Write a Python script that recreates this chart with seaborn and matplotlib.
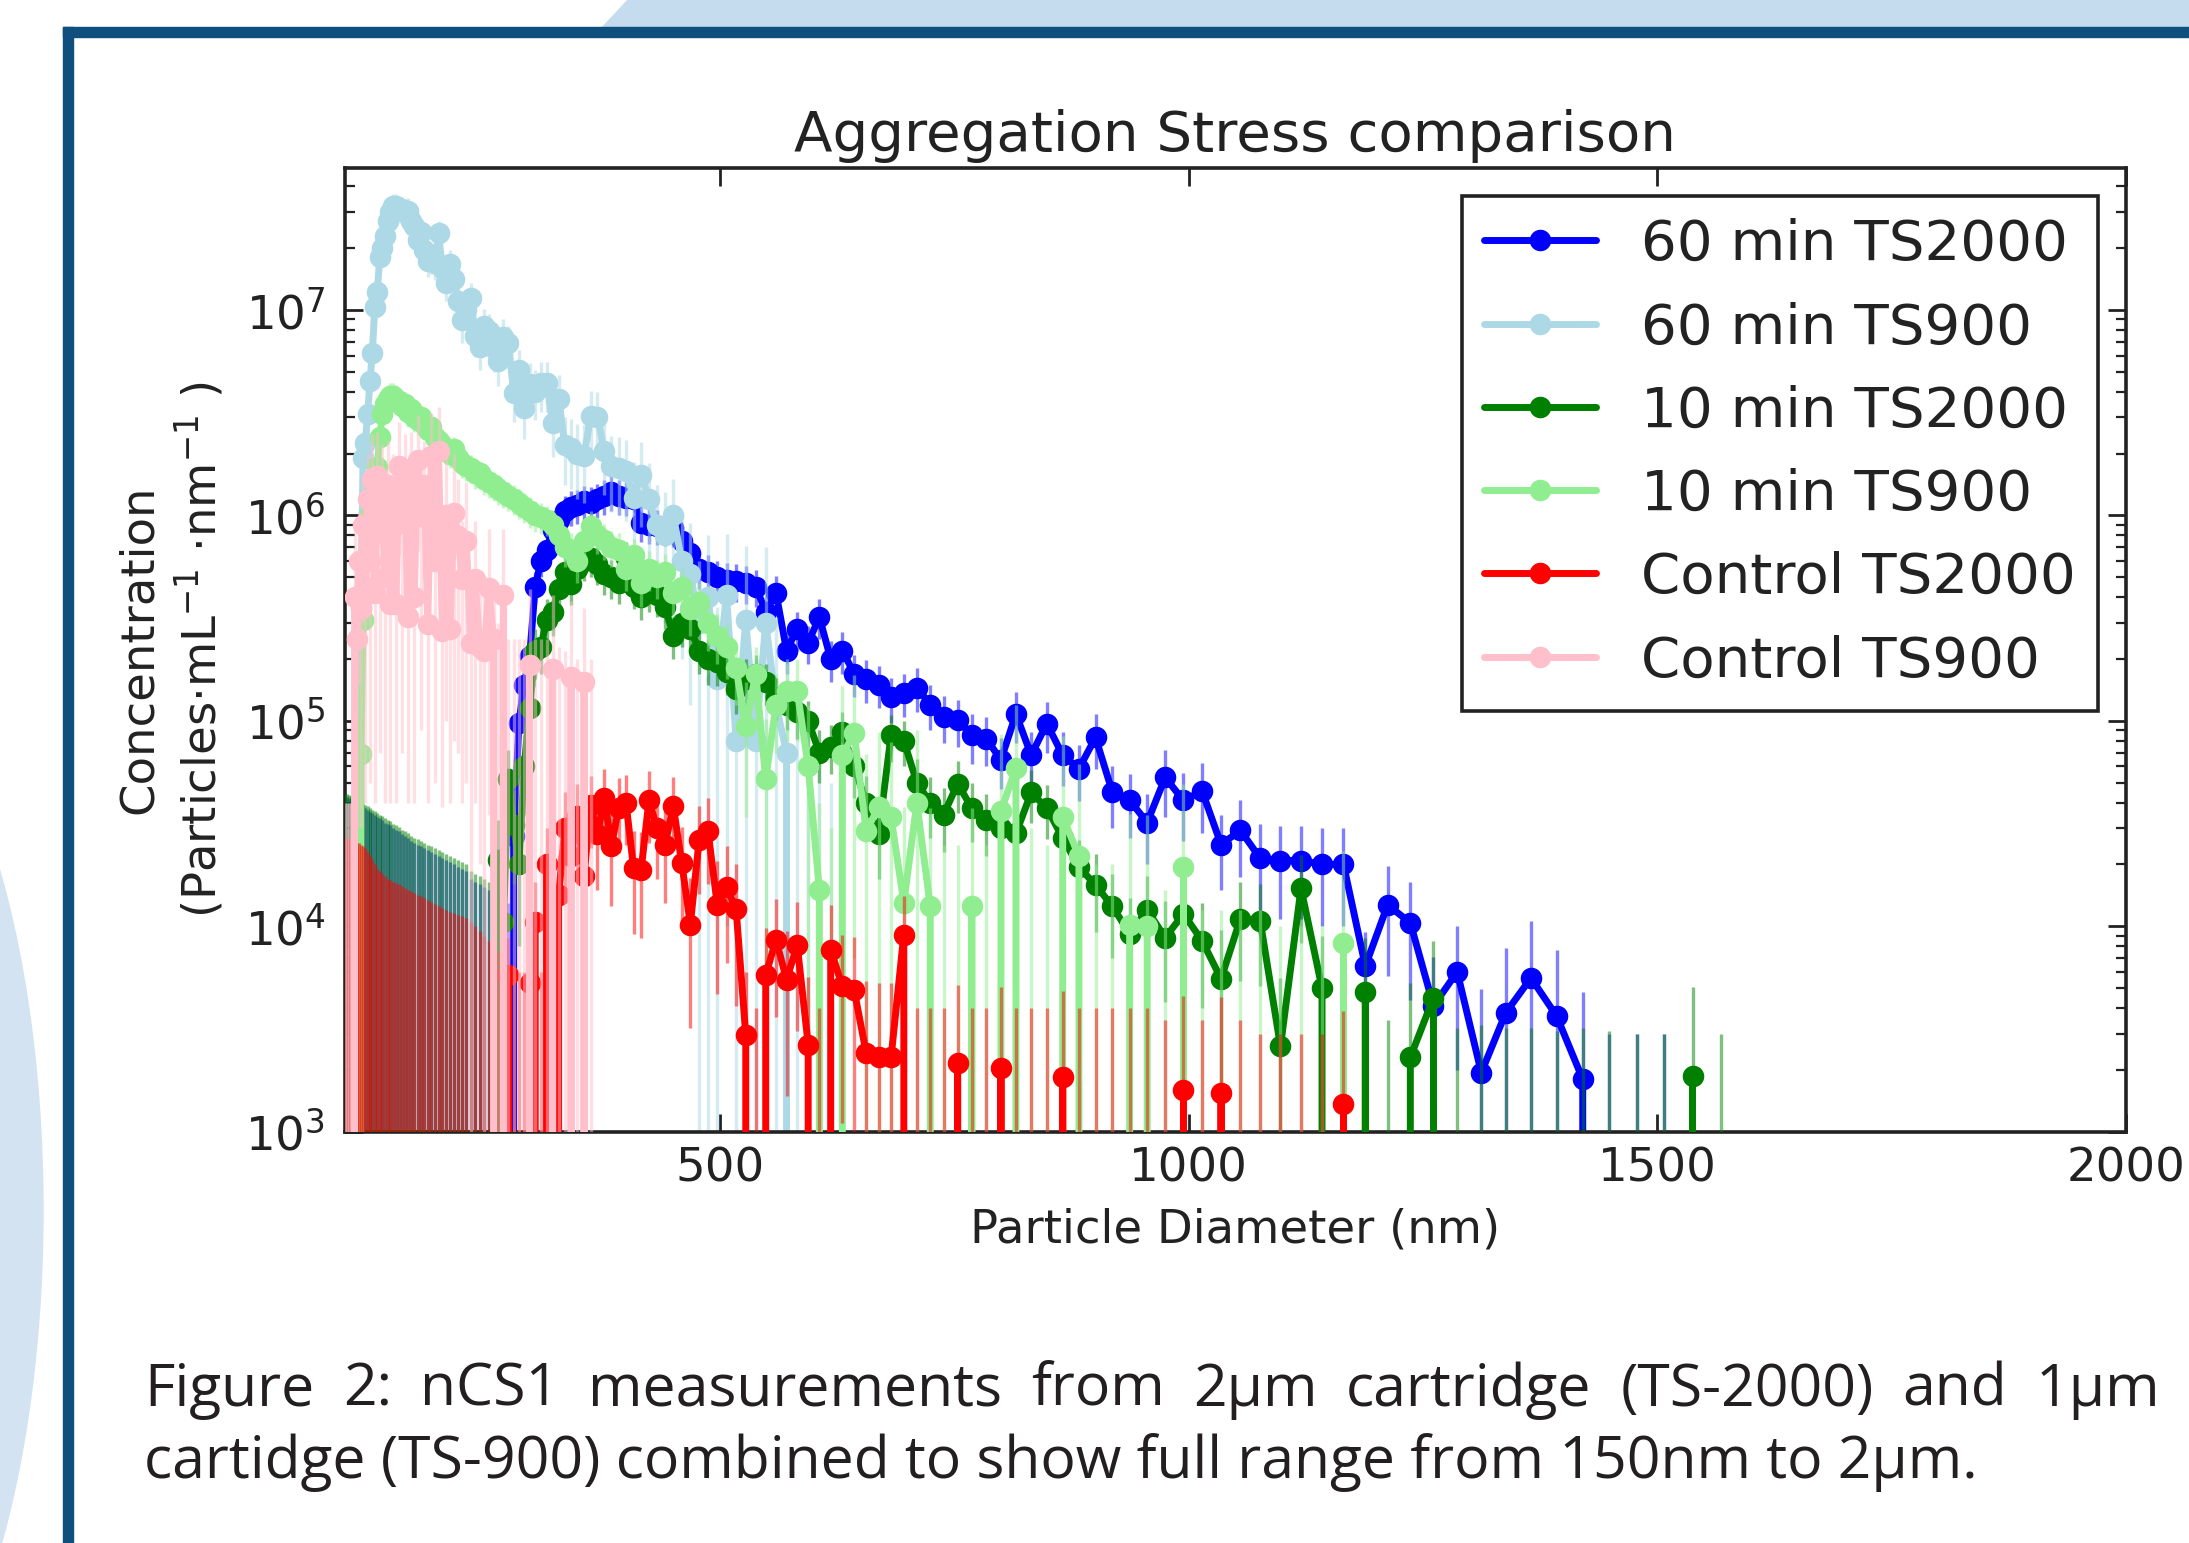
import numpy as np
import pandas as pd
import seaborn as sns
import matplotlib
matplotlib.use("Agg")
import matplotlib.pyplot as plt
from matplotlib.patches import Rectangle, Polygon, Ellipse
from matplotlib.ticker import NullLocator, FixedLocator

sns.set_style("ticks")
plt.rcParams['font.family'] = ['DejaVu Sans']
plt.rcParams['mathtext.fontset'] = 'dejavusans'

# bin centres (nm) shared by all six measurements
diam_nm = [
    100.0, 102.0, 104.0, 106.1, 108.2, 110.4, 112.6, 114.9, 117.2, 119.5,
    121.9, 124.3, 126.8, 129.4, 131.9, 134.6, 137.3, 140.0, 142.8, 145.7,
    148.6, 151.6, 154.6, 157.7, 160.8, 164.1, 167.3, 170.7, 174.1, 177.6,
    181.1, 184.8, 188.5, 192.2, 196.1, 200.0, 204.0, 208.1, 212.2, 216.5,
    220.8, 225.2, 229.7, 234.3, 239.0, 243.8, 248.7, 253.6, 258.7, 263.9,
    269.2, 274.6, 280.1, 285.7, 291.4, 297.2, 303.1, 309.2, 315.4, 321.7,
    328.1, 334.7, 341.4, 348.2, 355.2, 362.3, 369.5, 376.9, 384.4, 392.1,
    400.0, 408.0, 416.1, 424.5, 432.9, 441.6, 450.4, 459.4, 468.6, 478.0,
    487.5, 497.3, 507.2, 517.4, 527.7, 538.3, 549.0, 560.0, 571.2, 582.6,
    594.3, 606.2, 618.3, 630.7, 643.3, 656.2, 669.3, 682.7, 696.3, 710.2,
    724.5, 738.9, 753.7, 768.8, 784.2, 799.9, 815.9, 832.2, 848.8, 865.8,
    883.1, 900.8, 918.8, 937.2, 955.9, 975.1, 994.6, 1014.5, 1034.7, 1055.4,
    1076.5, 1098.1, 1120.0, 1142.4, 1165.3, 1188.6, 1212.4, 1236.6, 1261.3, 1286.6,
    1312.3, 1338.5, 1365.3, 1392.6, 1420.5, 1448.9, 1477.9, 1507.4, 1537.6, 1568.3,
]

# 60 min TS2000
conc_60_ts2000 = [
    0, 0, 0, 0, 0, 0, 0, 0, 0, 0,
    0, 0, 0, 0, 0, 0, 0, 0, 0, 0,
    0, 0, 0, 0, 0, 0, 0, 0, 0, 0,
    0, 0, 0, 0, 0, 0, 0, 0, 0, 0,
    0, 0, 0, 0, 0, 0, 0, 0, 0, 0,
    0, 0, 2.75e4, 9.8e4, 1.5e5, 2.07e5, 4.5e5, 6.0e5, 6.8e5, 8.5e5,
    9.5e5, 1.05e6, 1.1e6, 1.12e6, 1.17e6, 1.15e6, 1.2e6, 1.25e6, 1.3e6, 1.25e6,
    1.22e6, 1.2e6, 9.2e5, 9.0e5, 8.9e5, 8.8e5, 8.7e5, 7.5e5, 6.6e5, 5.5e5,
    5.3e5, 5.0e5, 4.85e5, 4.8e5, 4.7e5, 4.5e5, 3.4e5, 4.2e5, 2.2e5, 2.8e5,
    2.4e5, 3.2e5, 2.0e5, 2.2e5, 1.7e5, 1.6e5, 1.5e5, 1.3e5, 1.37e5, 1.45e5,
    1.2e5, 1.05e5, 1.01e5, 8.5e4, 8.2e4, 6.45e4, 1.08e5, 6.8e4, 9.7e4, 6.8e4,
    5.85e4, 8.3e4, 4.5e4, 4.1e4, 3.2e4, 5.3e4, 4.1e4, 4.55e4, 2.5e4, 2.93e4,
    2.14e4, 2.09e4, 2.09e4, 2.0e4, 2.0e4, 6.4e3, 1.27e4, 1.04e4, 4.1e3, 6.0e3,
    1.94e3, 3.8e3, 5.6e3, 3.66e3, 1.8e3, 0, 0, 0, 0, 0,
]
err_60_ts2000 = [
    43000, 42500, 42000, 41500, 41000, 40500, 40000, 39500, 39000, 38000,
    37500, 37000, 36000, 35500, 35000, 34000, 33500, 33000, 32000, 31500,
    31000, 30000, 29500, 29000, 28000, 27500, 27000, 26000, 25500, 25000,
    24500, 24000, 23500, 23000, 22500, 22000, 21500, 21000, 20500, 20000,
    19500, 19000, 18500, 17000, 16500, 16000, 15500, 15000, 14500, 14000,
    13500, 13000, 2.5e4, 4e4, 5e4, 6e4, 8e4, 1e5, 1.1e5, 1.2e5,
    1.8e5, 2e5, 2.1e5, 2.1e5, 2.2e5, 2.2e5, 2.3e5, 2.4e5, 2.5e5, 2.4e5,
    2.3e5, 2.3e5, 1.8e5, 1.7e5, 1.7e5, 1.7e5, 1.7e5, 1.5e5, 1.3e5, 1.1e5,
    1.1e5, 1e5, 1e5, 1e5, 1e5, 9e4, 7e4, 9e4, 5e4, 6e4,
    5e4, 7e4, 4.5e4, 5e4, 4e4, 3.8e4, 3.5e4, 3.2e4, 3.3e4, 3.5e4,
    3e4, 2.7e4, 2.6e4, 2.3e4, 2.2e4, 1.8e4, 3e4, 2e4, 2.7e4, 2e4,
    1.8e4, 2.5e4, 1.5e4, 1.4e4, 1.2e4, 1.9e4, 1.5e4, 1.7e4, 1e4, 1.2e4,
    1e4, 1e4, 1e4, 1e4, 1e4, 3e3, 7e3, 6e3, 3e3, 4e3,
    3e3, 4e3, 5e3, 4e3, 3e3, 3e3, 3e3, 3e3, 0, 0,
]

# 60 min TS900
conc_60_ts900 = [
    0, 0, 0, 0, 0, 0, 0, 0, 3.6e5, 1.9e6,
    2.26e6, 3.1e6, 4.5e6, 6.2e6, 1.03e7, 1.23e7, 1.82e7, 2.0e7, 2.3e7, 2.7e7,
    3.0e7, 3.2e7, 3.2e7, 3.1e7, 3.1e7, 3.0e7, 3.05e7, 2.7e7, 2.57e7, 2.2e7,
    2.4e7, 1.95e7, 1.74e7, 1.8e7, 1.7e7, 2.36e7, 1.6e7, 1.36e7, 1.67e7, 1.41e7,
    1.11e7, 8.9e6, 1.0e7, 1.15e7, 7.5e6, 6.6e6, 8.4e6, 7.9e6, 6.5e6, 5.65e6,
    7.4e6, 6.9e6, 3.96e6, 5.1e6, 3.35e6, 4.35e6, 4.0e6, 4.4e6, 4.4e6, 2.83e6,
    3.7e6, 2.2e6, 2.14e6, 2.0e6, 1.95e6, 3.05e6, 3.0e6, 2.06e6, 1.74e6, 1.7e6,
    1.64e6, 1.22e6, 1.58e6, 1.2e6, 9e5, 8e5, 1.0e6, 6e5, 5.2e5, 3e5,
    4e5, 1.6e5, 4.1e5, 8e4, 3.1e5, 8e4, 3e5, 1.2e5, 7e4, 0,
    0, 0, 0, 0, 0, 0, 0, 0, 0, 0,
    0, 0, 0, 0, 0, 0, 0, 0, 0, 0,
    0, 0, 0, 0, 0, 0, 0, 0, 0, 0,
    0, 0, 0, 0, 0, 0, 0, 0, 0, 0,
    0, 0, 0, 0, 0, 0, 0, 0, 0, 0,
]
err_60_ts900 = [
    0, 0, 0, 0, 0, 0, 0, 0, 1.5e5, 4e5,
    5e5, 6e5, 8e5, 1e6, 1.5e6, 1.8e6, 2.5e6, 3e6, 3.5e6, 4e6,
    4.5e6, 4.5e6, 4.5e6, 4.5e6, 4.5e6, 4.5e6, 4.5e6, 4e6, 4e6, 3.5e6,
    3.5e6, 3e6, 3e6, 3e6, 3e6, 3.5e6, 3e6, 2.5e6, 3e6, 2.5e6,
    2e6, 2e6, 2e6, 2e6, 1.6e6, 1.5e6, 1.7e6, 1.7e6, 1.5e6, 1.4e6,
    1.6e6, 1.5e6, 1.1e6, 1.3e6, 1e6, 1.2e6, 1.1e6, 1.2e6, 1.2e6, 9e5,
    1.1e6, 8e5, 8e5, 8e5, 8e5, 1e6, 1e6, 8e5, 7e5, 7e5,
    7e5, 6e5, 7e5, 6e5, 5e5, 5e5, 5e5, 4e5, 4e5, 3e5,
    4e5, 2e5, 4e5, 1.2e5, 4e5, 1.2e5, 4e5, 2e5, 1.2e5, 1.5e5,
    1e5, 8e4, 5e4, 0, 0, 0, 0, 0, 0, 0,
    0, 0, 0, 0, 0, 0, 0, 0, 0, 0,
    0, 0, 0, 0, 0, 0, 0, 0, 0, 0,
    0, 0, 0, 0, 0, 0, 0, 0, 0, 0,
    0, 0, 0, 0, 0, 0, 0, 0, 0, 0,
]

# 10 min TS2000
conc_10_ts2000 = [
    0, 0, 0, 0, 0, 0, 0, 0, 0, 0,
    0, 0, 0, 0, 0, 0, 0, 0, 0, 0,
    0, 0, 0, 0, 0, 0, 0, 0, 0, 0,
    0, 0, 0, 0, 0, 0, 0, 0, 0, 0,
    0, 0, 0, 0, 0, 0, 0, 0, 0, 2.1e4,
    1.05e4, 5.2e4, 3.1e4, 2.0e4, 6e4, 1.16e5, 2.2e5, 2.3e5, 3.1e5, 3.4e5,
    4.4e5, 5.3e5, 4.65e5, 5.5e5, 6.0e5, 6.2e5, 5.8e5, 5.2e5, 5.0e5, 4.7e5,
    6.2e5, 4.5e5, 4.0e5, 4.3e5, 4.1e5, 3.6e5, 2.6e5, 3.0e5, 2.8e5, 2.2e5,
    2.0e5, 1.93e5, 1.73e5, 1.43e5, 1.6e5, 1.7e5, 1.55e5, 1.31e5, 1.2e5, 1.1e5,
    1.0e5, 7e4, 7.5e4, 8.8e4, 6e4, 4e4, 2.8e4, 8.5e4, 8e4, 5e4,
    4e4, 3.5e4, 4.95e4, 3.76e4, 3.29e4, 3.0e4, 2.83e4, 4.48e4, 3.76e4, 2.69e4,
    1.94e4, 1.59e4, 1.25e4, 9.2e3, 1.2e4, 8.8e3, 1.15e4, 8.5e3, 5.55e3, 1.09e4,
    1.06e4, 2.6e3, 1.53e4, 5.0e3, 0, 4.8e3, 0, 2.3e3, 4.5e3, 0,
    0, 0, 0, 0, 0, 0, 0, 0, 1.86e3, 0,
]
err_10_ts2000 = [
    44000, 44000, 43500, 43000, 42500, 42000, 41500, 41000, 40500, 39500,
    39000, 38500, 37500, 37000, 36500, 35500, 35000, 34500, 33500, 33000,
    32500, 31500, 31000, 30500, 29500, 29000, 28500, 27500, 27000, 26500,
    26000, 25500, 25000, 24500, 24000, 23500, 23000, 22500, 22000, 21500,
    21000, 20500, 20000, 18500, 18000, 17500, 17000, 16500, 16000, 1.2e4,
    8e3, 2e4, 1.5e4, 1.2e4, 2.5e4, 4e4, 6e4, 6e4, 8e4, 8e4,
    1e5, 1.1e5, 1e5, 1.1e5, 1.2e5, 1.2e5, 1.2e5, 1.1e5, 1.1e5, 1e5,
    1.2e5, 1e5, 9e4, 9e4, 9e4, 8e4, 6e4, 7e4, 6e4, 5e4,
    5e4, 4.5e4, 4e4, 3.5e4, 4e4, 4e4, 3.5e4, 3e4, 3e4, 2.8e4,
    2.5e4, 2e4, 2e4, 2.2e4, 1.8e4, 1.4e4, 1.1e4, 2.2e4, 2e4, 1.5e4,
    1.3e4, 1.2e4, 1.4e4, 1.2e4, 1.1e4, 1e4, 1e4, 1.3e4, 1.1e4, 9e3,
    7e3, 6.5e3, 5.5e3, 4.5e3, 5.5e3, 4.5e3, 5.5e3, 4.5e3, 4e3, 5.5e3,
    5.5e3, 3e3, 7e3, 4e3, 3.5e3, 4e3, 3.5e3, 3e3, 4e3, 3.2e3,
    3.3e3, 3.2e3, 3.2e3, 3.1e3, 3.2e3, 3.1e3, 3.0e3, 3.0e3, 3.2e3, 3.0e3,
]

# 10 min TS900
conc_10_ts900 = [
    0, 0, 0, 0, 0, 0, 0, 0, 6.9e4, 3.1e5,
    6e5, 8.9e5, 1.0e6, 1.12e6, 1.4e6, 1.72e6, 2.4e6, 3.1e6, 3.5e6, 3.7e6,
    3.8e6, 3.8e6, 3.7e6, 3.6e6, 3.4e6, 3.5e6, 3.2e6, 3.3e6, 3.0e6, 2.9e6,
    3.0e6, 2.8e6, 2.6e6, 2.7e6, 2.4e6, 2.3e6, 2.2e6, 2.1e6, 2.0e6, 2.1e6,
    1.9e6, 1.8e6, 1.75e6, 1.7e6, 1.6e6, 1.6e6, 1.5e6, 1.45e6, 1.4e6, 1.35e6,
    1.3e6, 1.25e6, 1.2e6, 1.15e6, 1.1e6, 1.05e6, 1.0e6, 9.8e5, 9.5e5, 9.0e5,
    8.0e5, 7.0e5, 6.8e5, 6.0e5, 7.5e5, 8.9e5, 8.0e5, 7.6e5, 7.0e5, 6.8e5,
    5.5e5, 6.4e5, 4.7e5, 5.5e5, 5.0e5, 5.3e5, 4.2e5, 4.5e5, 3.5e5, 3.8e5,
    3.0e5, 2.6e5, 2.3e5, 1.8e5, 9.4e4, 1.7e5, 5.2e4, 1.2e5, 1.4e5, 1.4e5,
    6e4, 1.5e4, 0, 6.8e4, 8.7e4, 2.9e4, 3.8e4, 3.4e4, 1.3e4, 4e4,
    1.25e4, 0, 0, 1.25e4, 0, 3.63e4, 5.9e4, 0, 0, 3.4e4,
    2.2e4, 0, 0, 1.01e4, 1.0e4, 0, 1.94e4, 0, 0, 0,
    0, 0, 0, 0, 8.3e3, 0, 0, 0, 0, 0,
    0, 0, 0, 0, 0, 0, 0, 0, 0, 0,
]
err_10_ts900 = [
    0, 0, 0, 0, 0, 0, 0, 0, 5e4, 1.5e5,
    2e5, 2.5e5, 3e5, 3e5, 3.5e5, 4e5, 5e5, 6e5, 6e5, 6e5,
    6e5, 6e5, 6e5, 5.5e5, 5e5, 5e5, 5e5, 5e5, 4.5e5, 4.5e5,
    4.5e5, 4e5, 4e5, 4e5, 3.5e5, 3.5e5, 3.5e5, 3.2e5, 3e5, 3e5,
    3e5, 2.8e5, 2.8e5, 2.6e5, 2.5e5, 2.5e5, 2.4e5, 2.3e5, 2.2e5, 2.2e5,
    2.1e5, 2e5, 2e5, 1.9e5, 1.8e5, 1.8e5, 1.7e5, 1.7e5, 1.6e5, 1.6e5,
    1.5e5, 1.4e5, 1.4e5, 1.3e5, 1.5e5, 1.6e5, 1.5e5, 1.5e5, 1.4e5, 1.4e5,
    1.2e5, 1.3e5, 1.1e5, 1.2e5, 1.1e5, 1.2e5, 1e5, 1e5, 9e4, 9e4,
    8e4, 7e4, 7e4, 6e4, 6e4, 6e4, 5e4, 5e4, 6e4, 6e4,
    6e4, 2.5e4, 3e4, 8e4, 8e4, 4e4, 5e4, 4.5e4, 2.5e4, 5e4,
    2.5e4, 2.5e4, 2.5e4, 2.5e4, 2.5e4, 5e4, 6e4, 3e4, 2.5e4, 5e4,
    4e4, 2e4, 2e4, 2.5e4, 2.5e4, 1.5e4, 3e4, 1.2e4, 1.2e4, 1.2e4,
    1.2e4, 1e4, 1e4, 1e4, 1.5e4, 0, 0, 0, 0, 0,
    0, 0, 0, 0, 0, 0, 0, 0, 0, 0,
]

# Control TS2000
conc_ctrl_ts2000 = [
    0, 0, 0, 0, 0, 0, 0, 0, 0, 0,
    0, 0, 0, 0, 0, 0, 0, 0, 0, 0,
    0, 0, 0, 0, 0, 0, 0, 0, 0, 0,
    0, 0, 0, 0, 0, 0, 0, 0, 0, 0,
    0, 0, 0, 0, 0, 0, 0, 0, 0, 0,
    0, 5.8e3, 0, 0, 0, 5.3e3, 1.05e4, 0, 2.0e4, 0,
    1.42e4, 3.0e4, 2.2e4, 3.43e4, 1.75e4, 3.9e4, 2.8e4, 4.2e4, 2.45e4, 3.77e4,
    3.98e4, 1.92e4, 1.88e4, 4.13e4, 3.0e4, 2.5e4, 3.84e4, 2.03e4, 1.02e4, 2.64e4,
    2.9e4, 1.27e4, 1.56e4, 1.21e4, 2.96e3, 0, 5.8e3, 8.6e3, 5.5e3, 8.1e3,
    2.65e3, 0, 7.7e3, 5.1e3, 4.9e3, 2.41e3, 2.32e3, 2.3e3, 9.1e3, 0,
    0, 0, 2.15e3, 0, 0, 2.04e3, 0, 0, 0, 1.85e3,
    0, 0, 0, 0, 0, 0, 1.6e3, 0, 1.55e3, 0,
    0, 0, 0, 0, 1.37e3, 0, 0, 0, 0, 0,
    0, 0, 0, 0, 0, 0, 0, 0, 0, 0,
]
err_ctrl_ts2000 = [
    27000, 27000, 26500, 26500, 26000, 26000, 25500, 25500, 25000, 24500,
    24000, 23000, 22000, 21000, 20000, 19000, 18500, 18000, 17500, 17000,
    16800, 16500, 16200, 16000, 15700, 15400, 15100, 14800, 14500, 14200,
    14000, 13700, 13400, 13100, 12900, 12600, 12300, 12000, 11800, 11600,
    11400, 11200, 11000, 10500, 10000, 9500, 9000, 8500, 8000, 7500,
    7000, 3e3, 6000, 6000, 6000, 3e3, 6e3, 6000, 1e4, 8000,
    8e3, 1.5e4, 1.2e4, 1.5e4, 1e4, 1.5e4, 1.3e4, 1.6e4, 1.2e4, 1.5e4,
    1.5e4, 1e4, 1e4, 1.6e4, 1.3e4, 1.2e4, 1.5e4, 1e4, 7e3, 1.2e4,
    1.3e4, 8e3, 9e3, 8e3, 3e3, 4e3, 4e3, 5e3, 4e3, 5e3,
    3e3, 4e3, 5e3, 4e3, 4e3, 3e3, 3e3, 3e3, 5e3, 4e3,
    4e3, 4e3, 3e3, 4e3, 4e3, 3e3, 4e3, 4e3, 4e3, 3e3,
    4e3, 4e3, 4e3, 4e3, 4e3, 3.5e3, 3e3, 3.5e3, 3e3, 3.5e3,
    3e3, 3e3, 3e3, 3e3, 2.5e3, 0, 0, 0, 0, 0,
    0, 0, 0, 0, 0, 0, 0, 0, 0, 0,
]

# Control TS900
conc_ctrl_ts900 = [
    0, 0, 0, 0, 0, 4.0e5, 2.5e5, 6.0e5, 3.5e5, 9.0e5,
    4.5e5, 1.2e6, 6.0e5, 1.5e6, 4.2e5, 1.56e6, 8.2e5, 1.3e6, 5.0e5, 1.4e6,
    3.7e5, 1.2e6, 3.7e5, 1.74e6, 9.2e5, 1.5e6, 3.2e5, 1.56e6, 4.0e5, 1.87e6,
    9.9e5, 1.4e6, 2.95e5, 1.94e6, 6.0e5, 2.06e6, 2.73e5, 1.0e6, 2.8e5, 1.03e6,
    7.9e5, 4.9e5, 7.5e5, 2.4e5, 4.9e5, 2.3e5, 2.2e5, 4.45e5, 2.5e5, 0,
    4.1e5, 0, 0, 0, 0, 1.88e5, 0, 0, 0, 1.78e5,
    0, 0, 1.64e5, 0, 1.55e5, 0, 0, 0, 0, 0,
    0, 0, 0, 0, 0, 0, 0, 0, 0, 0,
    0, 0, 0, 0, 0, 0, 0, 0, 0, 0,
    0, 0, 0, 0, 0, 0, 0, 0, 0, 0,
    0, 0, 0, 0, 0, 0, 0, 0, 0, 0,
    0, 0, 0, 0, 0, 0, 0, 0, 0, 0,
    0, 0, 0, 0, 0, 0, 0, 0, 0, 0,
    0, 0, 0, 0, 0, 0, 0, 0, 0, 0,
]
err_ctrl_ts900 = [
    4e4, 4e4, 4e4, 4e4, 4e4, 5e5, 2.2e5, 4.5e5, 3.2e5, 6e5,
    4.1e5, 8e5, 5.5e5, 1e6, 3.8e5, 1e6, 7.5e5, 9e5, 4.6e5, 9e5,
    3.3e5, 8e5, 3.3e5, 1.1e6, 8.5e5, 1e6, 2.8e5, 1e6, 3.6e5, 1.2e6,
    9e5, 9e5, 2.55e5, 1.2e6, 5.5e5, 1.3e6, 2.35e5, 9e5, 2.4e5, 9.5e5,
    7.2e5, 4.5e5, 7e5, 3e5, 4.5e5, 2.1e5, 2.6e5, 4.1e5, 2.3e5, 3e5,
    4.5e5, 2.5e5, 2.5e5, 2.5e5, 2.5e5, 2.5e5, 2.5e5, 2.5e5, 2.5e5, 2.3e5,
    2.3e5, 2.2e5, 2.2e5, 2e5, 2e5, 2e5, 0, 0, 0, 0,
    0, 0, 0, 0, 0, 0, 0, 0, 0, 0,
    0, 0, 0, 0, 0, 0, 0, 0, 0, 0,
    0, 0, 0, 0, 0, 0, 0, 0, 0, 0,
    0, 0, 0, 0, 0, 0, 0, 0, 0, 0,
    0, 0, 0, 0, 0, 0, 0, 0, 0, 0,
    0, 0, 0, 0, 0, 0, 0, 0, 0, 0,
    0, 0, 0, 0, 0, 0, 0, 0, 0, 0,
]

labels = ["60 min TS2000", "60 min TS900", "10 min TS2000",
          "10 min TS900", "Control TS2000", "Control TS900"]
colors = ["blue", "lightblue", "green", "lightgreen", "red", "pink"]
concs = [conc_60_ts2000, conc_60_ts900, conc_10_ts2000,
         conc_10_ts900, conc_ctrl_ts2000, conc_ctrl_ts900]
errs = [err_60_ts2000, err_60_ts900, err_10_ts2000,
        err_10_ts900, err_ctrl_ts2000, err_ctrl_ts900]

caption_1 = "Figure 2: nCS1 measurements from 2\u03bcm cartridge (TS-2000) and 1\u03bcm"
caption_2 = "cartidge (TS-900) combined to show full range from 150nm to 2\u03bcm."

W, H = 2189, 1543
fig = plt.figure(figsize=(W / 100, H / 100), dpi=100)
fig.patch.set_facecolor("white")


def px_box(x0, y0, x1, y1):
    # pixel box (top-left origin) -> figure fraction rect
    return (x0 / W, 1 - y1 / H), (x1 - x0) / W, (y1 - y0) / H


# poster decorations behind the figure
fig.add_artist(Ellipse((-160 / W, 1 - 1210 / H), 406 / W, 1100 / H,
                       transform=fig.transFigure, color="#d4e3f2", zorder=0))
fig.add_artist(Polygon([(600 / W, 1 - 30 / H), (628 / W, 1.0), (1.0, 1.0), (1.0, 1 - 30 / H)],
                       closed=True, transform=fig.transFigure, color="#c5dcee", zorder=0))
xy, w, h = px_box(63, 27, W, 37)
fig.add_artist(Rectangle(xy, w, h, transform=fig.transFigure, color="#0f4f7e", zorder=1))
xy, w, h = px_box(63, 27, 73, H)
fig.add_artist(Rectangle(xy, w, h, transform=fig.transFigure, color="#0f4f7e", zorder=1))

ax = fig.add_axes([344.8 / W, 1 - 1131.7 / H, (2126 - 344.8) / W, (1131.7 - 167.5) / H])
ax.set_yscale("log")

handles = []
for i, (lab, conc, err, col) in enumerate(zip(labels, concs, errs, colors)):
    eb = ax.errorbar(diam_nm, conc, yerr=err, color=col, ecolor=col, marker="o",
                     markersize=14.5, markeredgecolor=col, linewidth=5, elinewidth=2.4,
                     capsize=0, zorder=2 + i * 0.3, label=lab)
    for bc in eb[2]:
        bc.set_alpha(0.5)
    handles.append(eb[0])

ax.set_xlim(100, 2000)
ax.set_ylim(1e3, 4.94e7)
ax.xaxis.set_major_locator(FixedLocator([500, 1000, 1500, 2000]))
ax.xaxis.set_minor_locator(NullLocator())
ax.tick_params(which="both", direction="in", top=True, right=True, colors="#222222")
ax.tick_params(which="major", length=13, width=2, labelsize=33.6, pad=14, labelcolor="#222222")
ax.tick_params(axis="x", which="major", pad=11)
ax.tick_params(which="minor", length=7, width=1.6)
for sp in ax.spines.values():
    sp.set_linewidth(2.6)
    sp.set_color("#222222")

ax.set_title("Aggregation Stress comparison", fontsize=40.5, pad=12, color="#222222")
ax.set_xlabel("Particle Diameter (nm)", fontsize=33.5, labelpad=11, color="#222222")
ax.set_ylabel("Concentration\n(Particles$\\cdot$mL$^{-1}$ $\\cdot$nm$^{-1}$ )",
              fontsize=33.5, labelpad=13, color="#222222", linespacing=1.25)

leg = ax.legend(handles, labels, loc="upper right", fontsize=40.5, frameon=True,
                fancybox=False, edgecolor="#222222", framealpha=1, numpoints=1,
                handlelength=1.98, handletextpad=0.8, labelspacing=0.52,
                borderpad=0.4, borderaxespad=0.5)
leg.get_frame().set_linewidth(2.6)
for t in leg.get_texts():
    t.set_color("#222222")

# caption below the chart: first line justified, second line left aligned
cap_kw = dict(fontsize=42.4, family="Open Sans", color="#231f20", va="baseline", ha="left")
words = caption_1.split(" ")
word_texts = [fig.text(0, 1 - 1406 / H, wd, **cap_kw) for wd in words]
fig.canvas.draw()
renderer = fig.canvas.get_renderer()
widths = [t.get_window_extent(renderer).width for t in word_texts]
left_px, right_px = 143.8, 2160.0
gap = (right_px - left_px - sum(widths)) / (len(words) - 1)
xpos = left_px
for t, wd in zip(word_texts, widths):
    t.set_x(xpos / W)
    xpos += wd + gap
fig.text(left_px / W, 1 - 1478 / H, caption_2, **cap_kw)

fig.savefig("out.png", dpi=100, facecolor="white")
